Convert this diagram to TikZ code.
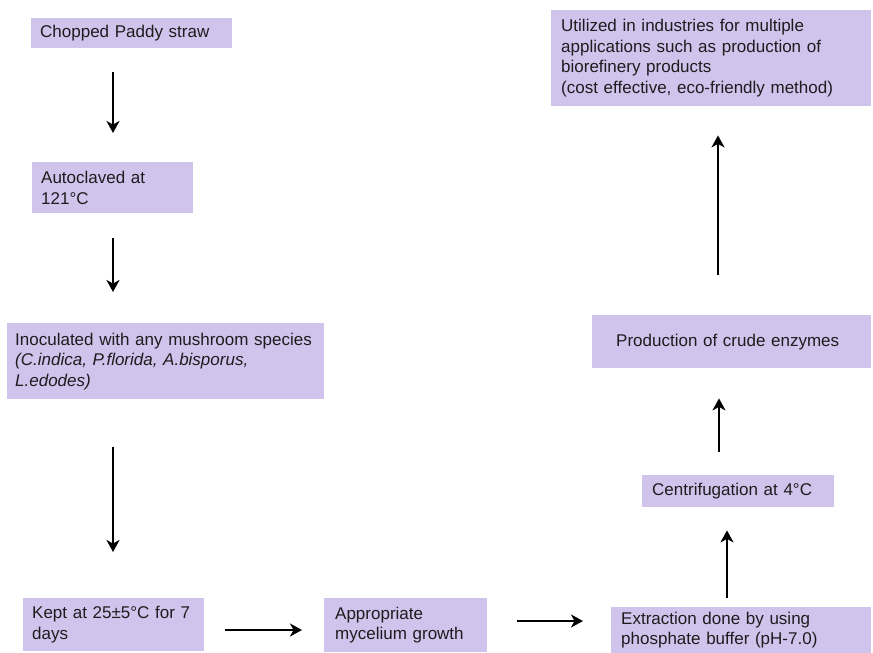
\documentclass[tikz,border=0pt]{standalone}
\usepackage{fontspec}
\setmainfont{Liberation Sans}
\usetikzlibrary{arrows.meta,calc}
\definecolor{boxfill}{RGB}{208,196,236}
\definecolor{ink}{RGB}{30,28,30}
\tikzset{
  stage/.style={draw=none, fill=boxfill, rectangle, anchor=north west,
    align=left, inner ysep=0pt, text=ink,
    font=\fontsize{17}{20.5}\selectfont},
  flow/.style={draw=black, line width=2.5pt,
    -{Stealth[length=12pt,width=13pt,inset=3.5pt]}}
}
\newcommand{\stagebox}[7]{% name, x, y, width, height, pad, text
  \node[stage, minimum width=#4pt, minimum height=#5pt, inner xsep=#6pt,
        text width=#4pt-2*#6pt] (#1) at (#2,#3) {#7};}
\begin{document}
\begin{tikzpicture}[x=1pt, y=-1pt]
\useasboundingbox (0,0) rectangle (873,653);

% process stages
\stagebox{b1}{31}{18}{201}{30}{9}{Chopped Paddy straw}
\stagebox{b2}{32}{162}{161}{51}{9}{Autoclaved at\\121°C}
\stagebox{b3}{7}{323}{317}{76}{8}{Inoculated with any mushroom species\\\textit{(C.indica, P.florida, A.bisporus,}\\\textit{L.edodes)}}
\stagebox{b4}{23}{598}{181}{53}{9}{Kept at 25±5°C for 7\\days}
\stagebox{b5}{324}{598}{163}{54}{11}{Appropriate\\mycelium growth}
\stagebox{b6}{611}{607}{260}{46}{10}{Extraction done by using\\phosphate buffer (pH-7.0)}
\stagebox{b7}{642}{475}{192}{32}{10}{Centrifugation at 4°C}
\stagebox{b8}{592}{315}{279}{53}{24}{Production of crude enzymes}
\stagebox{b9}{551}{10}{320}{96}{10}{Utilized in industries for multiple\\applications such as production of\\biorefinery products\\(cost effective, eco-friendly method)}

% connectors
\draw[flow, shorten <=24pt, shorten >=29pt] ([xshift=82pt]b1.south west) -- ([xshift=81pt]b2.north west);
\draw[flow, shorten <=25pt, shorten >=31pt] ([xshift=81pt]b2.south west) -- ([xshift=106pt]b3.north west);
\draw[flow, shorten <=48pt, shorten >=46pt] ([xshift=106pt]b3.south west) -- ([xshift=90pt]b4.north west);
\draw[flow, shorten <=21pt, shorten >=22pt] ([yshift=-32pt]b4.north east) -- ([yshift=-32pt]b5.north west);
\draw[flow, shorten <=30pt, shorten >=28pt] ([yshift=-23pt]b5.north east) -- ([yshift=-14pt]b6.north west);
\draw[flow, shorten <=9pt, shorten >=23pt] ([xshift=116pt]b6.north west) -- ([xshift=85pt]b7.south west);
\draw[flow, shorten <=23pt, shorten >=30pt] ([xshift=77pt]b7.north west) -- ([xshift=127pt]b8.south west);
\draw[flow, shorten <=40pt, shorten >=29pt] ([xshift=126pt]b8.north west) -- ([xshift=167pt]b9.south west);
\end{tikzpicture}
\end{document}
